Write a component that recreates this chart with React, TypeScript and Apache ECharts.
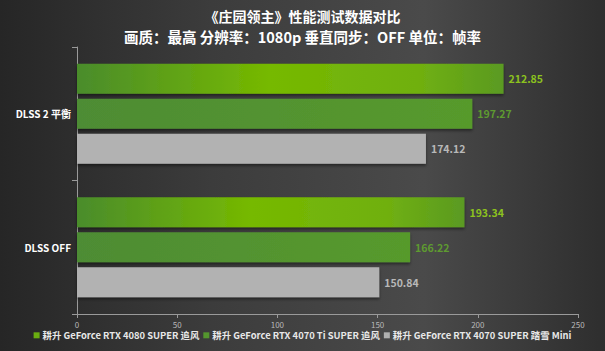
import React, { useEffect, useRef } from "react";
import * as echarts from "echarts";

const titleText = "《庄园领主》性能测试数据对比";
const subtitleText = "画质：最高 分辨率：1080p 垂直同步：OFF 单位：帧率";
const categories = ["DLSS 2 平衡", "DLSS OFF"];
const seriesNames = [
  "耕升 GeForce RTX 4080 SUPER 追风",
  "耕升 GeForce RTX 4070 Ti SUPER 追风",
  "耕升 GeForce RTX 4070 SUPER 踏雪 Mini",
];
const values4080 = [212.85, 193.34];
const values4070Ti = [197.27, 166.22];
const values4070 = [174.12, 150.84];
const xTicks = { min: 0, max: 250, interval: 50 };

const FONT = "'Noto Sans CJK SC', 'Noto Sans', sans-serif";

export default function App() {
  const ref = useRef<HTMLDivElement>(null);
  useEffect(() => {
    if (!ref.current) return;
    const chart = echarts.init(ref.current, undefined, { renderer: "svg" });
    const grad1 = new echarts.graphic.LinearGradient(0, 0, 1, 0, [
      { offset: 0, color: "#4a8c2c" },
      { offset: 0.45, color: "#76b900" },
      { offset: 0.8, color: "#70b010" },
      { offset: 1, color: "#5a9a22" },
    ]);
    const grad2 = new echarts.graphic.LinearGradient(0, 0, 1, 0, [
      { offset: 0, color: "#4e8c34" },
      { offset: 1, color: "#579a2c" },
    ]);
    const bg = new echarts.graphic.LinearGradient(0, 0, 1, 0, [
      { offset: 0, color: "#262626" },
      { offset: 0.35, color: "#3c3c3c" },
      { offset: 0.7, color: "#4a4a4a" },
      { offset: 1, color: "#2e2e2e" },
    ]);
    const shadow = { shadowColor: "rgba(0,0,0,0.45)", shadowBlur: 3, shadowOffsetY: 2 };
    const labelBase = {
      show: true,
      position: "right" as const,
      distance: 5,
      fontSize: 10.5,
      fontWeight: "bold" as const,
      fontFamily: FONT,
    };
    chart.setOption({
      animation: false,
      backgroundColor: bg,
      textStyle: { fontFamily: FONT },
      graphic: [
        {
          type: "text",
          x: 302.5,
          y: 15.5,
          style: {
            text: titleText,
            fill: "#ffffff",
            font: `bold 14px ${FONT}`,
            textAlign: "center",
            textVerticalAlign: "middle",
          },
        },
        {
          type: "text",
          x: 302.5,
          y: 36.5,
          style: {
            text: subtitleText,
            fill: "#ffffff",
            font: `bold 14.5px ${FONT}`,
            textAlign: "center",
            textVerticalAlign: "middle",
          },
        },
      ],
      legend: {
        bottom: 6,
        left: "center",
        icon: "rect",
        itemWidth: 6,
        itemHeight: 6,
        itemGap: 4,
        textStyle: { color: "#e8e8e8", fontSize: 9.4, fontWeight: "bold", fontFamily: FONT, padding: [0, 0, 0, -2] },
        data: [
          { name: seriesNames[0], itemStyle: { color: "#6aad10" } },
          { name: seriesNames[1], itemStyle: { color: "#54962e" } },
          { name: seriesNames[2], itemStyle: { color: "#b0b0b0" } },
        ],
      },
      grid: { left: 77, right: 27, top: 47, bottom: 37, containLabel: false },
      xAxis: {
        type: "value",
        min: xTicks.min,
        max: xTicks.max,
        interval: xTicks.interval,
        axisLine: { show: true, lineStyle: { color: "#9a9a9a", width: 1 } },
        axisTick: { show: true, length: 4, lineStyle: { color: "#9a9a9a" } },
        splitLine: { show: false },
        axisLabel: { color: "#b8b8b8", fontSize: 8, margin: 6, fontFamily: FONT },
      },
      yAxis: {
        type: "category",
        data: categories,
        inverse: true,
        axisLine: { show: true, lineStyle: { color: "#9a9a9a", width: 1 } },
        axisTick: { show: true, length: 5, lineStyle: { color: "#9a9a9a" } },
        axisLabel: { color: "#ffffff", fontSize: 10, fontWeight: "bold", margin: 6, fontFamily: FONT },
      },
      series: [
        {
          name: seriesNames[0],
          type: "bar",
          data: values4080,
          barWidth: 30,
          barGap: "17%",
          itemStyle: { color: grad1, ...shadow },
          label: { ...labelBase, color: "#8cc21e" },
        },
        {
          name: seriesNames[1],
          type: "bar",
          data: values4070Ti,
          barWidth: 30,
          barGap: "17%",
          itemStyle: { color: grad2, ...shadow },
          label: { ...labelBase, color: "#5e9a30" },
        },
        {
          name: seriesNames[2],
          type: "bar",
          data: values4070,
          barWidth: 30,
          barGap: "17%",
          itemStyle: { color: "#b2b2b2", ...shadow },
          label: { ...labelBase, color: "#b8b8b8" },
        },
      ],
    });
    return () => chart.dispose();
  }, []);
  return <div ref={ref} style={{ width: 605, height: 351, position: "fixed", left: 0, top: 0 }} />;
}
